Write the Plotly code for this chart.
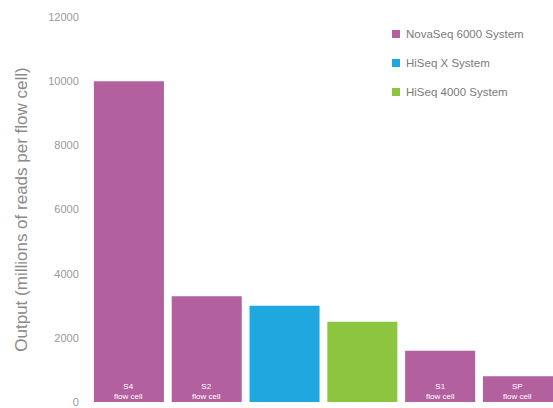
import plotly.graph_objects as go

categories = ["S4", "S2", "HiSeq X", "HiSeq 4000", "S1", "SP"]
systems = ["NovaSeq 6000 System", "HiSeq X System", "HiSeq 4000 System"]
system_of_bar = ["NovaSeq 6000 System", "NovaSeq 6000 System", "HiSeq X System",
                 "HiSeq 4000 System", "NovaSeq 6000 System", "NovaSeq 6000 System"]
output_values = [10000, 3300, 3000, 2500, 1600, 800]
bar_labels = ["S4<br>flow cell", "S2<br>flow cell", "", "", "S1<br>flow cell", "SP<br>flow cell"]
y_ticks = [0, 2000, 4000, 6000, 8000, 10000, 12000]
y_tick_text = ["0", "2000", "4000", "6000", "8000", "10000", "12000"]

colors = {"NovaSeq 6000 System": "#B2609E",
          "HiSeq X System": "#1FA8E0",
          "HiSeq 4000 System": "#8CC63F"}

W, H = 553, 408
L, R, T, B = 90, 0, 17, 6
pw, ph = W - L - R, H - T - B

def px_to_paper_x(px):
    return (px - L) / pw

def px_to_paper_y(py):
    return (H - B - py) / ph

fig = go.Figure()
for s in systems:
    xs = [c for c, sy in zip(categories, system_of_bar) if sy == s]
    ys = [v for v, sy in zip(output_values, system_of_bar) if sy == s]
    fig.add_trace(go.Bar(
        x=xs, y=ys, name=s, showlegend=False,
        marker=dict(color=colors[s], line=dict(width=0)),
        hoverinfo="skip",
    ))

annotations = []
for c, t in zip(categories, bar_labels):
    if t:
        annotations.append(dict(
            x=c, y=0, xref="x", yref="y", text=t, showarrow=False,
            yanchor="bottom", yshift=-1, align="center",
            font=dict(size=8, color="white", family="Liberation Sans"),
        ))

shapes = []
legend_y_px = [34, 63, 92]
for s, ly in zip(systems, legend_y_px):
    shapes.append(dict(
        type="rect", xref="paper", yref="paper",
        x0=px_to_paper_x(392), x1=px_to_paper_x(400),
        y0=px_to_paper_y(ly + 4), y1=px_to_paper_y(ly - 4),
        fillcolor=colors[s], line=dict(width=0),
    ))
    annotations.append(dict(
        x=px_to_paper_x(404), y=px_to_paper_y(ly), xref="paper", yref="paper",
        text=s, showarrow=False, xanchor="left", yanchor="middle",
        font=dict(size=11.5, color="#7a7a7a", family="Liberation Sans"),
    ))

fig.update_layout(
    width=W, height=H,
    margin=dict(l=L, r=R, t=T, b=B),
    paper_bgcolor="white", plot_bgcolor="white",
    barmode="overlay", bargap=0.1, showlegend=False,
    font=dict(family="Liberation Sans", color="#888888"),
    annotations=annotations, shapes=shapes,
    xaxis=dict(type="category", categoryarray=categories, range=[-0.5, 5.45],
               showticklabels=False, showgrid=False, zeroline=False, showline=False,
               automargin=False),
    yaxis=dict(range=[0, 12000], tickvals=y_ticks, ticktext=y_tick_text,
               showgrid=False, zeroline=False, automargin=False,
               ticklabeloverflow="allow",
               showline=False, ticks="outside", ticklen=8, tickcolor="white",
               tickfont=dict(size=11, color="#999999"),
               title=dict(text="Output (millions of reads per flow cell)",
                          font=dict(size=17, color="#8a8a8a"), standoff=16)),
)

fig.write_html("out.html", config={"displayModeBar": False},
               post_script="document.body.style.margin='0';document.body.style.overflow='hidden';")
